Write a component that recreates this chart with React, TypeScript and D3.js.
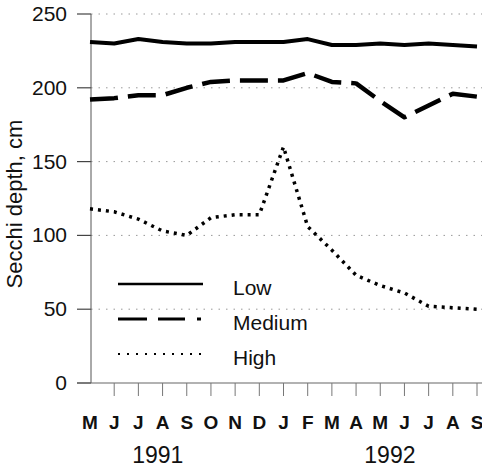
import React from 'react';
import * as d3 from 'd3';

const months = ['M', 'J', 'J', 'A', 'S', 'O', 'N', 'D', 'J', 'F', 'M', 'A', 'M', 'J', 'J', 'A', 'S'];
const years = [{ label: '1991', at: 2.8 }, { label: '1992', at: 12.4 }];
const yTicks = [0, 50, 100, 150, 200, 250];

const lowValues = [231, 230, 233, 231, 230, 230, 231, 231, 231, 233, 229, 229, 230, 229, 230, 229, 228];
const mediumValues = [192, 193, 195, 195, 200, 204, 205, 205, 205, 210, 204, 203, 191, 180, 188, 196, 194];
const highValues = [118, 116, 111, 103, 100, 112, 114, 114, 160, 106, 90, 73, 66, 61, 52, 51, 50];

const series = [
    { name: 'Low', values: lowValues, width: 4, dash: null, legendWidth: 2.5, legendDash: null },
    { name: 'Medium', values: mediumValues, width: 4.5, dash: '28 10', legendWidth: 3, legendDash: '29 11 27 12 4 20' },
    { name: 'High', values: highValues, width: 3.5, dash: '3 5', legendWidth: 2, legendDash: '2 7' },
];

const font = '"Liberation Sans", Arial, sans-serif';

export default function App() {
    const x = d3.scaleLinear().domain([0, months.length - 1]).range([90, 477]);
    const y = d3.scaleLinear().domain([0, 250]).range([383, 14]);

    const line = d3.line<number>()
        .x((_, i) => x(i))
        .y(d => y(d));

    return (
        <svg width={482} height={470} style={{ position: 'absolute', left: 0, top: 0, background: '#fff' }}
            fontFamily={font}>
            {/* grid + y ticks */}
            {yTicks.map(t => (
                <g key={t}>
                    {t > 0 && (
                        <line x1={91} x2={482} y1={y(t)} y2={y(t)} stroke="#999" strokeWidth={1}
                            strokeDasharray="1.5 6" />
                    )}
                    <line x1={77} x2={91} y1={y(t)} y2={y(t)} stroke="#444" strokeWidth={1.2} />
                    <text x={67} y={y(t) + 7} textAnchor="end" fontSize={21} fill="#111">{t}</text>
                </g>
            ))}

            {/* axes */}
            <line x1={91} x2={91} y1={y(250)} y2={y(0)} stroke="#555" strokeWidth={1} />
            <line x1={77} x2={482} y1={y(0)} y2={y(0)} stroke="#666" strokeWidth={1.2} />

            {/* x ticks + month labels */}
            {months.map((m, i) => (
                <g key={i}>
                    {i > 0 && (
                        <line x1={x(i)} x2={x(i)} y1={y(0)} y2={y(0) + 13} stroke="#777" strokeWidth={1} />
                    )}
                    <text x={x(i)} y={429} textAnchor="middle" fontSize={19} fontWeight="bold" fill="#111">{m}</text>
                </g>
            ))}
            {years.map(yr => (
                <text key={yr.label} x={x(yr.at)} y={463} textAnchor="middle" fontSize={23} fill="#111">{yr.label}</text>
            ))}

            {/* y axis title */}
            <text transform="translate(22,204) rotate(-90)" textAnchor="middle" fontSize={22} fill="#111">
                Secchi depth, cm
            </text>

            {/* series */}
            {series.map(s => (
                <path key={s.name} d={line(s.values) || ''} fill="none" stroke="#000" strokeWidth={s.width}
                    strokeDasharray={s.dash || undefined} strokeLinejoin="round" />
            ))}

            {/* legend */}
            {series.map((s, i) => (
                <g key={s.name} transform={`translate(0,${i * 35})`}>
                    <line x1={118} x2={203} y1={284} y2={284} stroke="#000" strokeWidth={s.legendWidth}
                        strokeDasharray={s.legendDash || undefined} />
                    <text x={233} y={295} fontSize={21} fill="#111">{s.name}</text>
                </g>
            ))}
        </svg>
    );
}
